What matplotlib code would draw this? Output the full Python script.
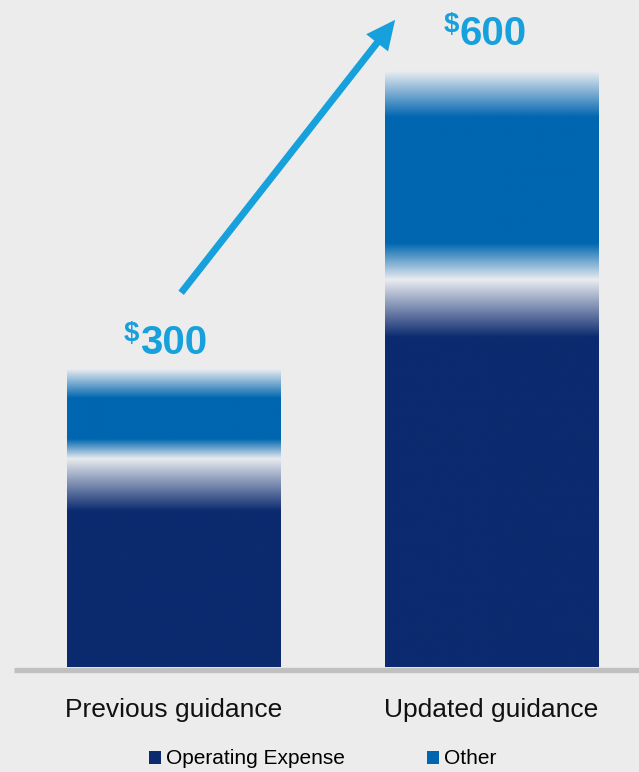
import numpy as np
import matplotlib
matplotlib.use("Agg")
import matplotlib.pyplot as plt
from matplotlib.colors import to_rgb
from matplotlib.patches import Patch

plt.rcParams['font.family'] = ['Liberation Sans', 'DejaVu Sans']

categories = ["Previous guidance", "Updated guidance"]
opex = [210, 390]
other = [90, 210]
totals = [300, 600]
series = ["Operating Expense", "Other"]

bg = "#ececec"
navy = "#0b2a6f"
blue = "#0066b0"
light = "#e9ecf0"
cyan = "#16a0dc"

# fade lengths (data units) for the shaded edges: opex top, other bottom, other top
fades = [(53, 20, 29), (58, 37, 46)]


def gradient_column(c_solid, height, fade_bottom, fade_top, n=300):
    ys = np.linspace(0, height, n)
    t = np.ones(n)
    if fade_bottom > 0:
        t = np.minimum(t, np.clip(ys / fade_bottom, 0, 1))
    if fade_top > 0:
        t = np.minimum(t, np.clip((height - ys) / fade_top, 0, 1))
    a = np.array(to_rgb(light))
    b = np.array(to_rgb(c_solid))
    col = a[None, :] * (1 - t[:, None]) + b[None, :] * t[:, None]
    return col[:, None, :]


fig = plt.figure(figsize=(6.39, 7.72), dpi=100, facecolor=bg)
ax = fig.add_axes([14 / 639, 1 - 667 / 772, 625 / 639, 667 / 772])
ax.set_facecolor(bg)

width = 0.67
x = np.arange(len(categories))
for i in range(len(categories)):
    f_op, f_ob, f_ot = fades[i]
    img = gradient_column(navy, opex[i], 0, f_op)
    ax.imshow(img, extent=[x[i] - width / 2, x[i] + width / 2, 0, opex[i]],
              origin="lower", aspect="auto", interpolation="bilinear", zorder=2)
    img = gradient_column(blue, other[i], f_ob, f_ot)
    ax.imshow(img, extent=[x[i] - width / 2, x[i] + width / 2, opex[i], opex[i] + other[i]],
              origin="lower", aspect="auto", interpolation="bilinear", zorder=2)

ax.set_xlim(-0.5016, 1.464)
ax.set_ylim(0, 672)
ax.axhline(-2.8, color="#c0c0c0", lw=3.8, clip_on=False, zorder=1,
           solid_capstyle="butt")

for s in ax.spines.values():
    s.set_visible(False)
ax.set_yticks([])
ax.set_xticks(x)
ax.set_xticklabels(categories, fontsize=19, color="#111111")
ax.tick_params(axis="x", length=0, pad=22)

# value labels with superscript dollar sign
lab_x = [-0.106, 0.900]
lab_y = [315, 627]
for i in range(len(totals)):
    ax.text(lab_x[i], lab_y[i], str(totals[i]), color=cyan, fontsize=29,
            fontweight="bold", ha="left", va="baseline")
    ax.text(lab_x[i] - 0.002, lab_y[i] + 13, "$", color=cyan, fontsize=20,
            fontweight="bold", ha="right", va="baseline")

# growth arrow
ax.annotate("", xy=(0.697, 652), xytext=(0.024, 377),
            arrowprops=dict(width=5, headwidth=20, headlength=21,
                            facecolor=cyan, edgecolor="none",
                            shrink=0))

handles = [Patch(facecolor=navy, edgecolor="none"), Patch(facecolor=blue, edgecolor="none")]
fig.legend(handles, series, loc="center", bbox_to_anchor=(0.505, 1 - 759 / 772),
           ncol=2, frameon=False, fontsize=15, handlelength=0.58, handleheight=0.58,
           handletextpad=0.24, columnspacing=3.9, borderaxespad=0)

fig.savefig("out.png", dpi=100, facecolor=bg)
